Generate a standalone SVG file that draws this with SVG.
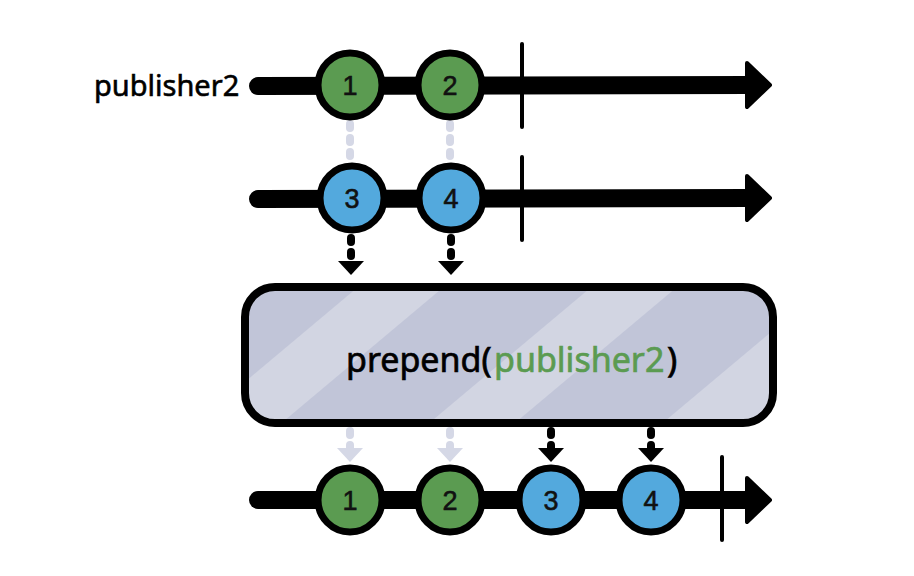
<svg xmlns="http://www.w3.org/2000/svg" width="914" height="576" viewBox="0 0 914 576">
<style>
.line{stroke:#000;stroke-width:18;stroke-linecap:round;fill:none}
.tick{stroke:#000;stroke-width:4;stroke-linecap:round}
.head{fill:#000;stroke:#000;stroke-width:4;stroke-linejoin:round}
.g{fill:#5b9b51;stroke:#000;stroke-width:7}
.b{fill:#53a9dd;stroke:#000;stroke-width:7}
.num{font-family:"Liberation Sans",Arial,sans-serif;font-size:27px;text-anchor:middle;fill:#111;stroke:#111;stroke-width:0.6}
.lbl{font-family:"Noto Sans","Liberation Sans",sans-serif;font-size:29px;fill:#000;stroke:#000;stroke-width:0.6}
.op{font-family:"Noto Sans","Liberation Sans",sans-serif;font-size:34px;stroke-width:0.7}
.dl{stroke:#d5d8e6;stroke-width:8;stroke-linecap:round;stroke-dasharray:4 10;fill:none}
.dk{stroke:#000;stroke-width:8;stroke-linecap:round;stroke-dasharray:4 10;fill:none}
.hl{fill:#d5d8e6}
.hk{fill:#000}
</style>
<defs>
<pattern id="stripes" patternUnits="userSpaceOnUse" width="150" height="150" patternTransform="rotate(-40)">
<rect width="150" height="150" fill="#c1c5d8"/>
<rect x="0" y="0" width="150" height="55" fill="#d2d5e2"/>
</pattern>
</defs>
<rect width="914" height="576" fill="#fff"/>
<g id="connectors">
<line class="dl" x1="350" y1="124" x2="350" y2="160"/>
<line class="dl" x1="450" y1="124" x2="450" y2="160"/>
<line class="dk" x1="351" y1="238" x2="351" y2="258"/>
<polygon class="hk" points="338,261 364,261 351,275"/>
<line class="dk" x1="451" y1="238" x2="451" y2="258"/>
<polygon class="hk" points="438,261 464,261 451,275"/>
<line class="dl" x1="350" y1="431" x2="350" y2="448"/>
<polygon class="hl" points="337,448 363,448 350,462"/>
<line class="dl" x1="450" y1="431" x2="450" y2="448"/>
<polygon class="hl" points="437,448 463,448 450,462"/>
<line class="dk" x1="551" y1="431" x2="551" y2="448"/>
<polygon class="hk" points="538,448 564,448 551,462"/>
<line class="dk" x1="651" y1="431" x2="651" y2="448"/>
<polygon class="hk" points="638,448 664,448 651,462"/>
</g>
<g id="publisher2-line">
<text class="lbl" x="94" y="96">publisher2</text>
<line class="line" x1="258" y1="86" x2="750" y2="85"/>
<polygon class="head" points="747,63 770,85 747,107"/>
<line class="tick" x1="522" y1="44" x2="522" y2="127"/>
<circle class="g" cx="350" cy="85" r="32"/>
<text class="num" x="350" y="95">1</text>
<circle class="g" cx="450" cy="85" r="32"/>
<text class="num" x="450" y="95">2</text>
</g>
<g id="publisher1-line">
<line class="line" x1="258" y1="199" x2="750" y2="198"/>
<polygon class="head" points="747,176 770,198 747,220"/>
<line class="tick" x1="522" y1="157" x2="522" y2="240"/>
<circle class="b" cx="352" cy="198" r="32"/>
<text class="num" x="352" y="208">3</text>
<circle class="b" cx="451" cy="198" r="32"/>
<text class="num" x="451" y="208">4</text>
</g>
<g id="operator">
<rect x="245" y="287" width="528" height="136" rx="30" fill="url(#stripes)" stroke="#000" stroke-width="8"/>
<text class="op" x="346" y="372" fill="#000" stroke="#000">prepend(</text>
<text class="op" x="494" y="372" fill="#5b9b51" stroke="#5b9b51">publisher2</text>
<text class="op" x="667" y="372" fill="#000" stroke="#000">)</text>
</g>
<g id="output-line">
<line class="line" x1="258" y1="500" x2="750" y2="500"/>
<polygon class="head" points="747,478 770,500 747,522"/>
<line class="tick" x1="722" y1="457" x2="722" y2="540"/>
<circle class="g" cx="350" cy="500" r="32"/>
<text class="num" x="350" y="510">1</text>
<circle class="g" cx="450" cy="500" r="32"/>
<text class="num" x="450" y="510">2</text>
<circle class="b" cx="551" cy="500" r="32"/>
<text class="num" x="551" y="510">3</text>
<circle class="b" cx="651" cy="500" r="32"/>
<text class="num" x="651" y="510">4</text>
</g>
</svg>
